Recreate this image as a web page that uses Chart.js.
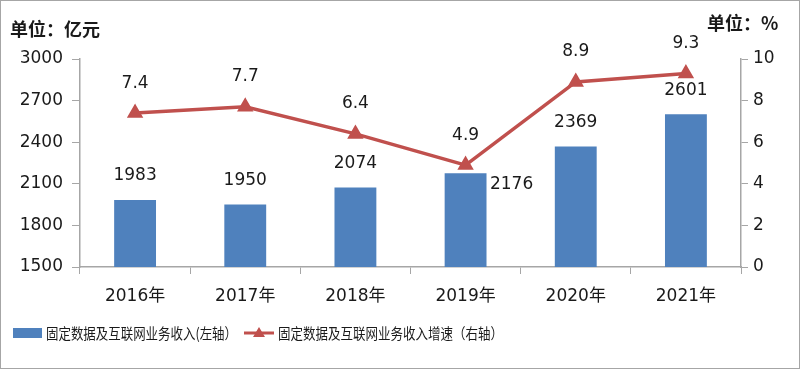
<!DOCTYPE html>
<html>
<head>
<meta charset="utf-8">
<script src="https://cdn.jsdelivr.net/npm/chart.js@4/dist/chart.umd.min.js"></script>
<style>
  html, body { margin: 0; padding: 0; background: #fff; }
  #wrap { position: relative; width: 798px; height: 367px; border: 1px solid #a6a6a6; }
</style>
</head>
<body>
<div id="wrap"><canvas id="c" width="798" height="367"></canvas></div>
<script>
// 固定数据及互联网业务收入 + 增速
const years = ["2016年", "2017年", "2018年", "2019年", "2020年", "2021年"];
const revenue = [1983, 1950, 2074, 2176, 2369, 2601];
const growth = [7.4, 7.7, 6.4, 4.9, 8.9, 9.3];
const leftTicks = [1500, 1800, 2100, 2400, 2700, 3000];
const rightTicks = [0, 2, 4, 6, 8, 10];

const BLUE = "#4f81bd";
const RED = "#c0504d";
const AXIS = "#a6a6a6";
const NUM_FONT = "17px 'DejaVu Sans'";
const CJK = "'Noto Sans CJK SC'";

const labelPlugin = {
  id: "labels",
  afterDatasetsDraw(chart) {
    const ctx = chart.ctx;
    ctx.save();
    ctx.fillStyle = "#1a1a1a";
    ctx.font = NUM_FONT;
    ctx.textAlign = "center";
    ctx.textBaseline = "middle";
    chart.getDatasetMeta(1).data.forEach((bar, i) => {
      // 2019 的标签被折线挡住，放在柱子右侧
      if (i === 3) ctx.fillText(revenue[i], bar.x + 46, bar.y + 11);
      else ctx.fillText(revenue[i], bar.x, bar.y - 24);
    });
    chart.getDatasetMeta(0).data.forEach((pt, i) => {
      ctx.fillText(growth[i].toFixed(1), pt.x, pt.y - 30);
    });

    // 单位
    ctx.font = "bold 18px " + CJK;
    ctx.textAlign = "left";
    ctx.fillText("单位：亿元", 9, 28, 110);
    ctx.fillText("单位：%", 706, 22, 84);

    // 图例
    const ly = 332;
    ctx.font = "15px " + CJK;
    ctx.fillStyle = BLUE;
    ctx.fillRect(12, ly - 5, 29, 10);
    ctx.fillStyle = "#1a1a1a";
    ctx.fillText("固定数据及互联网业务收入(左轴）", 45, ly, 191);
    ctx.strokeStyle = RED;
    ctx.lineWidth = 3;
    ctx.beginPath();
    ctx.moveTo(243, ly);
    ctx.lineTo(273, ly);
    ctx.stroke();
    ctx.fillStyle = RED;
    ctx.beginPath();
    ctx.moveTo(258, ly - 6);
    ctx.lineTo(264, ly + 4);
    ctx.lineTo(252, ly + 4);
    ctx.closePath();
    ctx.fill();
    ctx.fillStyle = "#1a1a1a";
    ctx.fillText("固定数据及互联网业务收入增速（右轴）", 277, ly, 225);
    ctx.restore();
  }
};

new Chart(document.getElementById("c"), {
  data: {
    labels: years,
    datasets: [
      {
        type: "line",
        label: "固定数据及互联网业务收入增速（右轴）",
        data: growth,
        yAxisID: "y2",
        borderColor: RED,
        backgroundColor: RED,
        borderWidth: 3.5,
        pointStyle: "triangle",
        pointRadius: 6,
        pointHoverRadius: 6,
        tension: 0,
        order: 0,
      },
      {
        type: "bar",
        label: "固定数据及互联网业务收入(左轴）",
        data: revenue,
        yAxisID: "y",
        backgroundColor: BLUE,
        barPercentage: 0.38,
        categoryPercentage: 1,
        order: 1,
      },
    ],
  },
  options: {
    responsive: false,
    animation: false,
    layout: { padding: { left: 0, right: 0, top: 58, bottom: 0 } },
    plugins: { legend: { display: false }, tooltip: { enabled: false } },
    scales: {
      x: {
        offset: true,
        grid: { display: true, drawOnChartArea: false, offset: true, color: AXIS, tickLength: 7 },
        border: { color: AXIS, width: 1.5 },
        ticks: { color: "#1a1a1a", font: { family: "'DejaVu Sans', " + CJK, size: 17 }, padding: 12 },
        afterFit: (s) => { s.height = 101; },
      },
      y: {
        position: "left",
        min: 1500,
        max: 3000,
        afterBuildTicks: (s) => { s.ticks = leftTicks.map((v) => ({ value: v })); },
        grid: { display: true, drawOnChartArea: false, color: AXIS, tickLength: 8 },
        border: { color: AXIS, width: 1.5 },
        ticks: { color: "#1a1a1a", font: { family: "'DejaVu Sans'", size: 17 }, padding: 9, callback: (v) => String(v) },
        afterFit: (s) => { s.width = 79; },
      },
      y2: {
        position: "right",
        min: 0,
        max: 10,
        afterBuildTicks: (s) => { s.ticks = rightTicks.map((v) => ({ value: v })); },
        grid: { display: true, drawOnChartArea: false, color: AXIS, tickLength: 7 },
        border: { color: AXIS, width: 1.5 },
        ticks: { color: "#1a1a1a", font: { family: "'DejaVu Sans'", size: 17 }, padding: 5, callback: (v) => String(v) },
        afterFit: (s) => { s.width = 58; },
      },
    },
  },
  plugins: [labelPlugin],
});
</script>
</body>
</html>
